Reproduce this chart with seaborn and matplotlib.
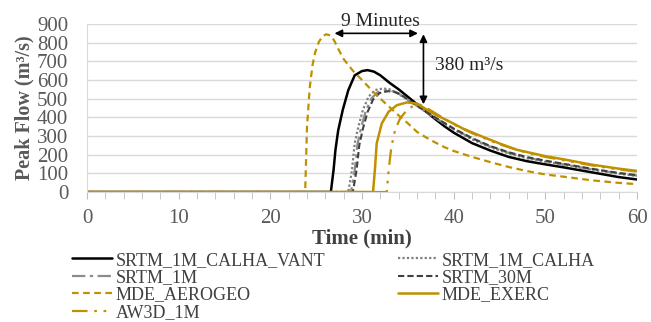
import numpy as np
import pandas as pd
import matplotlib
matplotlib.use("Agg")
import matplotlib.pyplot as plt
import seaborn as sns

# Hydrograph values (time in min, flow in m3/s)
t_vant = [0, 26.6, 26.9, 27.1, 27.4, 27.9, 28.5, 29.2, 30.0, 30.6, 31.3, 32.0, 33.0, 34.0, 35.0,
          36.0, 37.0, 38.0, 39.0, 40.0, 42.0, 44.0, 46.0, 48.0, 50.0, 52.0, 55.0, 58.0, 60.0]
q_vant = [0, 0, 120, 225, 330, 440, 545, 625, 648, 653, 645, 625, 585, 550, 510,
          470, 430, 390, 352, 318, 262, 222, 188, 165, 148, 132, 106, 80, 67]

t_calha = [0, 28.5, 28.9, 29.2, 29.6, 30.1, 30.7, 31.4, 32.3, 33.0, 33.6, 34.5, 35.5, 36.5,
           38.0, 40.0, 42.0, 44.0, 46.0, 48.0, 50.0, 52.0, 55.0, 58.0, 60.0]
q_calha = [0, 0, 116, 260, 350, 440, 510, 546, 555, 550, 537, 510, 478, 445,
           395, 335, 282, 240, 206, 180, 162, 145, 120, 98, 86]

t_srtm1m = [0, 28.8, 29.2, 29.5, 29.9, 30.4, 31.0, 31.7, 32.6, 33.2, 33.8, 34.6, 35.5, 36.5,
            38.0, 40.0, 42.0, 44.0, 46.0, 48.0, 50.0, 52.0, 55.0, 58.0, 60.0]
q_srtm1m = [0, 0, 116, 255, 345, 432, 500, 535, 545, 542, 532, 508, 478, 446,
            397, 338, 286, 243, 210, 184, 165, 148, 122, 100, 88]

t_srtm30 = [0, 29.0, 29.4, 29.7, 30.1, 30.6, 31.2, 31.9, 32.8, 33.4, 34.0, 34.7, 35.5, 36.5,
            38.0, 40.0, 42.0, 44.0, 46.0, 48.0, 50.0, 52.0, 55.0, 58.0, 60.0]
q_srtm30 = [0, 0, 116, 250, 340, 428, 495, 530, 540, 538, 528, 506, 478, 447,
            399, 340, 289, 246, 213, 187, 168, 151, 125, 102, 90]

t_aero = [0, 23.8, 24.0, 24.3, 24.6, 24.9, 25.3, 25.7, 26.1, 26.6, 27.0, 27.5, 28.0, 29.0, 30.0,
          31.0, 32.0, 33.0, 34.0, 35.0, 36.0, 37.0, 38.0, 39.0, 40.0, 42.0, 44.0, 46.0,
          48.0, 50.0, 52.0, 55.0, 58.0, 60.0]
q_aero = [0, 0, 350, 560, 680, 750, 805, 835, 845, 838, 808, 758, 712, 650, 600,
          548, 500, 455, 410, 368, 322, 292, 265, 240, 220, 188, 160, 134,
          112, 94, 82, 63, 49, 42]

t_exerc = [0, 31.2, 31.4, 31.6, 32.15, 32.9, 33.8, 34.9, 36.0, 37.1, 38.0, 39.6, 41.0,
           43.2, 45.0, 46.9, 50.0, 52.0, 55.0, 58.0, 60.0]
q_exerc = [0, 0, 116, 260, 367, 430, 465, 480, 474, 440, 415, 376, 340,
           295, 260, 226, 192, 175, 147, 125, 113]

t_aw3d = [0, 32.7, 32.9, 33.2, 33.6, 34.15, 34.9, 35.6, 36.3, 37.0, 38.0, 40.0, 42.0,
          45.0, 48.0, 50.0, 52.0, 55.0, 58.0, 60.0]
q_aw3d = [0, 0, 116, 242, 331, 394, 439, 462, 468, 452, 422, 362, 315,
          255, 210, 188, 170, 143, 121, 109]

sns.set_style("white")
plt.rcParams["font.family"] = ["Liberation Serif", "DejaVu Serif"]

gold = "#BF9000"
fig = plt.figure(figsize=(6.51, 3.22), dpi=100)
ax = fig.add_axes([0.1336, 0.4037, 0.845, 0.5217])

series = [
    ("SRTM_1M_CALHA_VANT", t_vant, q_vant, "black", (None, None), 1.8),
    ("SRTM_1M_CALHA", t_calha, q_calha, "#7F7F7F", (1, 1), 1.6),
    ("SRTM_1M", t_srtm1m, q_srtm1m, "#8C8C8C", (6, 2, 1.5, 2), 1.6),
    ("SRTM_30M", t_srtm30, q_srtm30, "#404040", (3, 1.5), 1.5),
    ("MDE_AEROGEO", t_aero, q_aero, gold, (3, 2), 1.6),
    ("MDE_EXERC", t_exerc, q_exerc, gold, (None, None), 1.8),
    ("AW3D_1M", t_aw3d, q_aw3d, gold, (7, 3, 1.2, 3, 1.2, 3), 1.6),
]

handles = {}
for name, t, q, col, dash, lw in series:
    sns.lineplot(x=t, y=q, ax=ax, color=col, linewidth=lw, sort=False,
                 estimator=None, label=name)
    line = ax.lines[-1]
    if dash[0] is not None:
        line.set_dashes(dash)
    handles[name] = line

ax.set_xlim(0, 60)
ax.set_ylim(0, 900)
ax.set_xticks(range(0, 61, 10))
ax.set_xticks(range(0, 61, 2), minor=True)
ax.set_yticks(range(0, 901, 100))
ax.yaxis.grid(True, color="#D9D9D9", linewidth=1)
ax.xaxis.grid(False)
for s in ["top", "right"]:
    ax.spines[s].set_visible(False)
for s in ["left", "bottom"]:
    ax.spines[s].set_color("#D9D9D9")
ax.tick_params(axis="x", which="both", direction="out", bottom=True, color="#BFBFBF",
               length=5, labelsize=15, labelcolor="#595959", pad=7.5)
ax.tick_params(axis="y", left=False, labelsize=15, labelcolor="#595959", pad=10)

ax.set_xlabel("Time (min)", fontsize=15, fontweight="bold", color="#404040", labelpad=0)
ax.set_ylabel("Peak Flow (m³/s)", fontsize=14.5, fontweight="bold", color="#595959", labelpad=2)

# annotations
ax.annotate("", xy=(27.0, 850), xytext=(36.1, 850),
            arrowprops=dict(arrowstyle="<|-|>", color="black", lw=1.2, shrinkA=0, shrinkB=0,
                            mutation_scale=11))
ax.text(32.0, 912, "9 Minutes", ha="center", va="center", fontsize=14, color="#262626",
        clip_on=False)
ax.annotate("", xy=(36.7, 845), xytext=(36.7, 470),
            arrowprops=dict(arrowstyle="<|-|>", color="black", lw=1.2, shrinkA=0, shrinkB=0,
                            mutation_scale=11))
ax.text(38.0, 680, "380 m³/s", ha="left", va="center", fontsize=14, color="#262626")

order = ["SRTM_1M_CALHA_VANT", "SRTM_1M", "MDE_AEROGEO", "AW3D_1M",
         "SRTM_1M_CALHA", "SRTM_30M", "MDE_EXERC"]
ax.legend([handles[n] for n in order], order, ncol=2, frameon=False,
          loc="upper left", bbox_to_anchor=(0.111, 0.218), bbox_transform=fig.transFigure,
          fontsize=13, handlelength=2.2, handletextpad=0.22, labelspacing=0.02,
          columnspacing=4.0, borderaxespad=0, borderpad=0, labelcolor="#404040")

fig.savefig("out.png", dpi=100)
